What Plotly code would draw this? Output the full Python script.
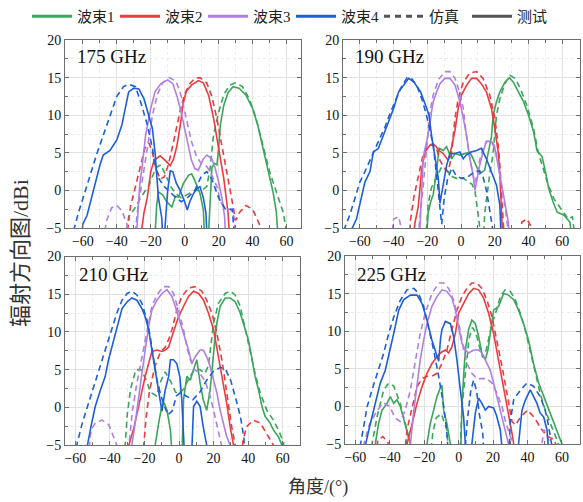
import plotly.graph_objects as go

# ---------------- data (angle in deg, gain in dBi); -8 = below the -5 dBi floor ----------------
freqs = ["175 GHz", "190 GHz", "210 GHz", "225 GHz"]
beam_names = ["波束1", "波束2", "波束3", "波束4"]
beam_colors = ["#3aa65c", "#ea3b3f", "#b07fe2", "#1d5fd6"]

# 175 GHz
meas_175_b1 = [(-18,-8),(-16.5,-2),(-15.5,-0.2),(-13,-0.6),(-10.6,-1.5),(-7.6,-2.2),(-5.5,-0.8),(-3.7,-0.9),(-0.8,0.9),(2.2,2.0),(4.1,2.2),(6,1.3),(9,-0.4),(11,-2.6),(12,-8),(13.5,-8),(15,-1.5),(16,3.0),(17.5,3.6),(19,3.4),(20,5.6),(21,8.7),(23,11.3),(25.5,13.0),(28.5,13.8),(32,13.6),(36,12.7),(40,10.9),(43,8.7),(46,5.6),(49,2.5),(52,-0.2),(54,-2.9),(55.5,-8)]
sim_175_b1 = [(-36,-8),(-33,-3.5),(-30,-2.6),(-26,-1.0),(-21,0.7),(-17,3.0),(-14,3.4),(-11,2.0),(-8,0.4),(-5,-0.5),(-2,-1.0),(2,-0.5),(6,0),(10,0),(13,0.5),(15,3.0),(17,7.4),(20,10.4),(23,12.7),(26.5,14.0),(30,14.3),(34,13.8),(38,12.2),(42,9.6),(46,6.0),(50,2.5),(54,-0.2),(58,-2.9),(62,-8)]
meas_175_b2 = [(-27,-8),(-24,-3),(-22,-0.9),(-20,2.5),(-18,4),(-14.5,4.6),(-11.5,4),(-8.5,3.3),(-6.5,4.2),(-4.7,5.8),(-2.7,8.5),(-1,11.5),(1,13.2),(4,14),(8,14.6),(11,14.3),(14,12.7),(17,9.6),(20,5.6),(23,1.6),(25.5,-2.9),(27,-8)]
sim_175_b2 = [(-35,-8),(-32,-2.2),(-29,0.5),(-26,3.5),(-23.5,5.6),(-21,6.3),(-19,5),(-17,3),(-14.5,1.5),(-12,1.8),(-9.5,3.5),(-7,6),(-4.5,8.8),(-2.5,10.8),(0,12.8),(3,14.2),(6,14.9),(9,15),(13,14.3),(16,12.5),(19,9.5),(22,6),(25,2),(28,-1.5),(30,-4),(32,-3),(36,-2),(40,-2.5),(44,-4.5),(46,-8)]
meas_175_b3 = [(-29,-8),(-27.5,-2),(-26.5,0.7),(-25,3.3),(-23,7.4),(-20,10.9),(-17.5,13.1),(-14,14.2),(-10,14.7),(-7,14.2),(-4.5,12.5),(-2.5,10.8),(1,6.9),(4,4),(6,2.9),(8,2.7),(11,4.2),(13,4.7),(16,4.2),(18,2.9),(20,1.1),(22,-1.1),(23.5,-3.5),(24.5,-8)]
sim_175_b3 = [(-49,-8),(-46,-4),(-43,-2.3),(-40,-2),(-37,-2.7),(-34,-4.5),(-32,-8),(-30,-8),(-28,-3),(-25,1.5),(-22,6),(-19,10),(-16,12.8),(-13,14.3),(-9,15),(-5,14.5),(-2,12.5),(1,9.5),(4,6.5),(7,4.5),(10,3.5),(13,3.2),(16,2),(19,0.5),(21,-1.5),(24,-2.5),(27,-2.5),(29,-3.5),(31,-8)]
meas_175_b4 = [(-61.5,-8),(-60,-4.5),(-57.5,-3.3),(-55.5,-1.5),(-53.7,-0.2),(-50,3.3),(-48,4.7),(-44,5.3),(-40,6.7),(-37,8.7),(-35,10.9),(-33,13.1),(-30,13.6),(-27,13.5),(-24,12.2),(-22,10.7),(-19,8.2),(-17.5,5.1),(-16.5,2.5),(-15.5,-0.9),(-13.5,-3.7),(-12.5,-8),(-11,-3),(-10,0),(-8.5,2.6),(-7,2.5),(-5,1),(-2.7,0),(0,-1.5),(1.5,-2.6),(3,-1.5),(5,-0.5),(7,0.2),(9,0.5),(11,-1),(12.5,-3),(13.5,-8)]
sim_175_b4 = [(-66,-8),(-65,-5),(-62.5,-2.9),(-58.6,-0.2),(-55,2.5),(-52,4.7),(-48,7.3),(-44,10),(-40,12.5),(-36,13.8),(-33,14.1),(-29,13.8),(-26,11.8),(-22,8.7),(-19,5.6),(-17.5,3.3),(-15,1.5),(-12,0.5),(-9,-0.2),(-5,-1),(-2,-1.5),(2,-0.9),(6,0),(10,2),(13,2.5),(16,1.5),(20,-1),(24,-2.5),(28,-2.5),(30,-8)]

# 190 GHz
meas_190_b1 = [(-21,-8),(-19.5,-3),(-18,-1.5),(-16.5,-0.5),(-14.5,2.7),(-13,5.6),(-10.6,5.3),(-8.6,5.8),(-5.6,4.2),(-3.6,4.9),(-0.7,4.7),(2.3,4.9),(5.2,5.1),(7.2,4.2),(9.2,3.1),(11,2.2),(14,2.7),(16,4.9),(18,7.1),(19,10),(21,11.8),(23,13.1),(26,14.4),(28.6,15.0),(31,14.4),(34,13.1),(37,11.8),(40,10),(43,7.8),(45,5.3),(48,4.5),(50,2.5),(52,0.2),(54.5,-1.5),(57,-2.9),(61,-3.3),(64.5,-4.2),(66.5,-8)]
sim_190_b1 = [(-21.5,-8),(-19.5,-1.8),(-17.5,0.4),(-14.5,1.8),(-11.6,3.1),(-8,2.5),(-5,1.8),(-2.7,1.6),(1.3,1.6),(4,1.2),(6.5,0.8),(8.2,0),(9.6,-2.2),(10.8,-4.4),(12,-8),(13,-8),(14,-3.1),(15.5,-0.4),(17,2.2),(19,4.9),(21,10),(23,12.2),(26,14.2),(29,15.3),(32,14.9),(35,13.6),(39,11.3),(43,8.2),(45.7,5.1),(48.7,2.9),(51.7,0.7),(55,-1.1),(58,-2),(60.6,-2.9),(63.5,-3.8),(66,-3.5),(68.5,-8)]
meas_190_b2 = [(-29,-8),(-27.4,-4.4),(-25.4,-2.2),(-23.4,2.7),(-21.4,5.1),(-18.5,6),(-15.5,6),(-13,5.3),(-10.6,4.9),(-7.6,4),(-5.6,5.8),(-3.6,8),(-1.7,10.9),(0.3,12.7),(3.3,14),(6.2,14.9),(9.2,14.9),(12,14.2),(15,13.1),(18,10.9),(20,8.2),(22,5.1),(23,2),(24,-1.5),(25,-8)]
sim_190_b2 = [(-31,-8),(-30,-4),(-28,-0.9),(-25,2.2),(-22.4,4.9),(-19.5,6),(-16.5,6.2),(-14.5,5.5),(-12.5,4),(-10,3),(-7.6,2.5),(-6,4.2),(-3.6,9.6),(-1.7,12.2),(1.3,14.4),(5.2,15.6),(9.2,15.8),(13,14.9),(17,12.7),(20,9.6),(22,6),(23,3.3),(24,-0.2),(25,-3.5),(26,-8),(35,-8),(36,-4.2),(39,-3.8),(41,-4.6),(42,-8)]
meas_190_b3 = [(-25,-8),(-23.5,0),(-22.4,4.5),(-20.4,6.5),(-18.5,8.7),(-17.5,10.5),(-16.5,11.8),(-14.5,13.1),(-12.5,14.2),(-9.6,14.9),(-6.6,14.9),(-3.6,14),(-0.7,11.8),(1.3,9.6),(3.3,7.3),(5.2,4.2),(7.2,2),(8.2,0),(9,1),(11,3.3),(13,5.1),(15,6.5),(18,6.5),(20,5.6),(22,3.3),(24,0.7),(26,-2),(28,-4.2),(29,-8)]
sim_190_b3 = [(-42,-8),(-40,-3.8),(-37,-3.5),(-35,-5.5),(-26,-8),(-25,-5),(-22.4,0.7),(-20.4,6),(-18.5,10.4),(-16.5,12.7),(-13.5,14.7),(-9.6,15.8),(-6.6,15.8),(-3.6,14.9),(-1,13.1),(1.3,10.9),(3,7.5),(5,4.5),(7,2),(8,1),(9.5,2),(11,4),(13,5.5),(15,6.5),(18,6.6),(20,5.8),(22,3.5),(24,1),(26,-2),(28,-5.5)]
meas_190_b4 = [(-65,-8),(-64.5,-5),(-62,-3.8),(-59,-0.7),(-57,1.1),(-54,2.5),(-52,5.1),(-49,5.6),(-46,7.3),(-43,9.1),(-40,10.9),(-37,13.1),(-34,14),(-31,14.9),(-28,14.4),(-24,13.1),(-21,11.3),(-19,10),(-17.5,7.3),(-15.5,4.2),(-13.5,1.6),(-12.5,-1.7),(-10.5,0.7),(-8.6,3.3),(-6.6,4.9),(-3.6,4.9),(-0.7,5.1),(1.3,4.2),(3,4.7),(6,5.1),(9.2,5.3),(12,5.6),(15,4.2),(18,2.5),(21,0.7),(23,-2),(24,-8)]
sim_190_b4 = [(-70,-8),(-69,-5),(-66,-3.3),(-63,-1.1),(-60,1.1),(-57,2.5),(-54,4),(-51,5.5),(-48,6.8),(-45,8.5),(-42,10.3),(-39,12),(-36,13.5),(-32,15),(-29,14.8),(-26,13.8),(-23,12),(-20.5,10),(-18.5,8),(-16.5,6),(-14.5,2),(-12.5,-2),(-11.5,-4.5),(-10,-1),(-8,1.5),(-5.5,3),(-3,2),(0,1.6),(4,1.8),(8,2.5),(11,2.6),(13,1.8),(15,0),(17,-2.7),(19,-5.5)]

# 210 GHz
meas_210_b1 = [(-14.5,-8),(-13.8,-5),(-11.8,-2.1),(-9.9,0.3),(-8.5,0.5),(-7,-0.4),(-5,-3),(-3.5,-8),(1.5,-8),(2.6,1),(4.5,4.1),(6.5,3.6),(8.4,5),(10.3,6.3),(12.2,3.2),(14,1),(16,-0.4),(18,2.3),(20,7.2),(21.9,11.2),(23.8,13.4),(26.7,14.5),(29.6,14.5),(32.5,14),(35.4,12.5),(38.2,10.3),(40.2,8.9),(42,6.7),(44,4.1),(46,2.3),(48,0.1),(49.8,-1.2),(52.7,-2.1),(54.6,-3),(57.5,-3.9),(59.5,-5),(60.5,-8)]
sim_210_b1 = [(-32,-8),(-30,-1),(-28,2.5),(-25,5),(-22,5),(-19,3.6),(-16.5,2),(-13,1.5),(-10.5,3.5),(-8,4.7),(-5,3.5),(-2,2),(0,1.8),(3,2.5),(6,4),(9,5),(12,5),(15,4.5),(17,5.5),(18.5,8),(20,11.2),(22.8,13.8),(26.7,15.1),(29.6,15.4),(32.5,14.9),(35.4,13.4),(38.2,10.7),(41,7.6),(44,4.5),(47,1.9),(50.8,-0.4),(54.6,-1.7),(57.5,-3),(60.4,-4.6),(61.5,-8)]
meas_210_b2 = [(-30,-8),(-29,-5),(-26,-2.6),(-23.4,0.1),(-21.5,2.3),(-19.6,4.1),(-17.6,5.8),(-15.7,7.4),(-12.8,7.6),(-9.9,7.4),(-8,7.6),(-6,8),(-4.1,9.4),(-2.2,10.7),(-0.3,12),(2.6,13.4),(5.5,14.7),(8.4,15.4),(11.3,15.1),(14.2,14.2),(17,12.5),(20,10.3),(22.8,6.7),(25.7,3.2),(27.6,0.5),(29.6,-2.6),(31.5,-5),(32.5,-8)]
sim_210_b2 = [(-21.5,-8),(-20.5,-5),(-19,-1.2),(-17,2.3),(-14,5.4),(-11,7.2),(-8,8),(-6,9),(-4.1,10.3),(-1.3,12.9),(1.6,14.7),(5.5,15.8),(9.3,16),(13.2,15.4),(16,14.2),(19,12.5),(21.9,9.8),(24.8,6.3),(26.7,3.2),(28.6,0.1),(30.5,-2.6),(32.5,-5),(33.5,-8),(36,-8),(37,-4.5),(39,-2.6),(43,-1.7),(47,-2.1),(50.8,-3.5),(54.6,-5),(55.5,-8)]
meas_210_b3 = [(-28,-8),(-27.3,-5),(-25.4,-2.1),(-23.4,1.4),(-21.5,4.5),(-19.6,7.6),(-17.6,10.7),(-15.7,12.9),(-12.8,14.2),(-9.9,15.1),(-7,15.6),(-4.1,14.7),(-2.2,13.4),(-0.3,12),(2.6,9.8),(5.5,7.6),(7.4,5.8),(9.3,6.7),(12.2,7.6),(14,7.6),(16,6.7),(18,5.4),(20,3.6),(21.9,1.9),(23.8,-0.4),(25.7,-2.1),(27.6,-3.9),(29.6,-5),(30.5,-8)]
sim_210_b3 = [(-53,-8),(-51,-3),(-48.4,-2.1),(-44.6,-1.7),(-40.7,-2.3),(-38,-3.9),(-36,-5),(-34,-8),(-30,-8),(-29,-5),(-27,-0.5),(-24.4,3.2),(-21.5,6.7),(-18.6,10.3),(-15.7,13.4),(-12.8,14.9),(-9,16),(-6,16),(-3.2,15.1),(-0.3,12.9),(2.6,10.3),(4.5,8),(6.5,6.3),(9,5),(12,4.5),(15,3.5),(18,1.5),(20,-0.4),(22.8,-3),(25,-5.5)]
meas_210_b4 = [(-54,-8),(-53,-5),(-51,-2.6),(-48.5,0.1),(-45.5,2.3),(-42.7,4.1),(-40.8,6.3),(-38.8,8),(-37,9.8),(-35,11.6),(-33,13.1),(-30,14),(-27.3,14.5),(-24.4,14.2),(-21.5,13.1),(-19.6,12),(-17.6,10.3),(-15.7,7.6),(-13.8,5),(-11.8,2.3),(-9.9,-0.5),(-8,2.3),(-6,4.1),(-5,6.3),(-3.2,6.3),(-1.3,5.8),(0.5,4),(1.6,1),(2.6,-5),(3.5,-8),(7,-8),(8.4,0.1),(10.3,0.8),(12.2,0.1),(14,-2.6),(16,-5),(17,-8)]
sim_210_b4 = [(-60,-8),(-59,-4.8),(-56,-2.1),(-53,0.1),(-50,2.3),(-47.5,4.1),(-44.6,6.3),(-41.7,8.5),(-38.8,10.3),(-36,12.5),(-33,14.2),(-30,15.1),(-27.3,15.4),(-24.4,14.9),(-21.5,13.8),(-18.6,11.6),(-16.7,9.4),(-14.7,6.3),(-12.8,3.6),(-10.9,1.9),(-9,0.5),(-6.5,-1),(-4,-0.5),(-1.5,1.5),(1,2),(4,1.5),(8,1),(12,2),(16,3.6),(20,4.8),(24,5.3),(27,5),(30,3.5),(33,1),(35.5,-1.2),(37.5,-4),(38.5,-8)]

# 225 GHz
meas_225_b1 = [(-49,-8),(-48.4,-5),(-46.5,-2.3),(-44.5,-0.5),(-41.6,0.4),(-39.7,1.3),(-37.7,0.4),(-35.8,0.9),(-33.9,0),(-32,-1.5),(-30,-3.2),(-28,-5),(-27,-8),(-19,-8),(-18.4,-5),(-16.5,-2.3),(-14.5,-0.5),(-12.6,1.3),(-10.6,2.5),(-9.7,2.8),(-8.7,-0.5),(-6.8,-2.3),(-4.8,-5),(-4,-8),(1,-8),(1.9,0),(2.9,4),(3.9,7.5),(5.8,10.2),(7.7,11.5),(9.7,11),(11.6,9.3),(13.5,7.1),(15.5,6.2),(17,7.5),(18.4,9.7),(20.3,12.8),(23.2,13.3),(26.1,15),(29,14.8),(32,14.2),(34.8,12.8),(37.7,11),(40.6,8.8),(43.5,5.7),(46.5,3.1),(49.4,1.3),(52.3,-0.5),(55.2,-2.3),(58,-4),(60,-5),(61,-8)]
sim_225_b1 = [(-51,-8),(-50.3,-5),(-47.4,-1.4),(-43.5,2.2),(-40.6,3.1),(-37.7,2.7),(-33.9,0.4),(-30,-3.1),(-28,-5),(-27,-8),(-17,-8),(-15,-3.5),(-13,-1.5),(-10,-1),(-7,-3),(-5,-8),(0.5,-8),(2,0),(4,5),(6,9),(8,10.5),(10,9.8),(12,8),(14,6.5),(16,7.5),(19.4,11),(22.3,13),(24.2,14.6),(27,15.5),(30,15.3),(32.9,14.2),(35.8,12.4),(38.7,10.2),(41.6,7.5),(44.5,4.4),(47.4,1.7),(50.3,-0.5),(53.2,-2.3),(56,-4),(58,-5),(59,-8)]
meas_225_b2 = [(-31,-8),(-30,-5),(-27,-2.3),(-24.2,0.4),(-21.3,2.6),(-18.4,4.4),(-15.5,5.7),(-12.6,6.6),(-10,7.2),(-7.7,7.5),(-5.8,7.1),(-3.9,7.9),(-1.9,9.7),(0,12.4),(2.9,13.7),(5.8,15),(8.7,15.7),(11.6,15.5),(14.5,14.4),(17.4,12.4),(20.3,9.7),(23.2,6.2),(26.1,2.6),(29,-0.9),(31,-3.6),(32,-5),(33,-8)]
sim_225_b2 = [(-48,-8),(-47,-4.5),(-44,-4),(-41,-4.8),(-40,-8),(-32,-8),(-30,-3.1),(-27,0),(-24.2,2.6),(-21.3,3.7),(-18.4,4),(-15.5,4),(-12.6,4.4),(-9.7,5.7),(-6.8,7.5),(-3.9,10.2),(-1,12.8),(1.9,14.6),(4.8,15.7),(7.7,16.4),(10.6,16.4),(13.5,15.7),(16.5,14.1),(19.4,11.9),(22.3,8.8),(25.2,5.3),(27,3.1),(29,0.5),(31,-2),(33,-2.5),(36,-1.4),(40,-0.5),(44,-1.5),(48,-3),(52,-4),(56,-4.5),(58,-8)]
meas_225_b3 = [(-29,-8),(-28,-5),(-26,-0.5),(-24.2,3.1),(-22.3,6.2),(-20.3,8.8),(-18.4,11),(-15.5,13.3),(-12.6,14.6),(-9.7,15.5),(-6.8,15.3),(-3.9,14.4),(-1.9,12.8),(0,10.6),(1.9,8.4),(3.9,7.5),(5.8,7.1),(8.7,7.5),(11.6,7.5),(13.5,7.1),(15.5,6.2),(18.4,4.8),(20.3,3.1),(22.3,1.3),(24.2,-0.5),(26.1,-2.3),(28,-4),(29,-5),(30,-8)]
sim_225_b3 = [(-56,-8),(-55,-5),(-52,-2.5),(-48,-0.8),(-44,0.5),(-40,0),(-37,-1.5),(-34,-2),(-31,-0.5),(-28,2.2),(-25,6.2),(-22.3,9.7),(-19.4,12.4),(-15.5,15),(-11.6,16.4),(-8.7,16.4),(-5.8,15.7),(-2.9,14.1),(-1,12.4),(1,9.7),(2.9,7.5),(4.8,5.7),(7.7,4.4),(10.6,3.7),(13.5,3.7),(16.5,3.7),(19.4,3.1),(22.3,1.7),(25.2,0),(27,-1.8),(30,-4),(32,-5),(33,-8),(47,-8),(49.4,-3.1),(51,-3.5),(53,-5),(54,-8)]
meas_225_b4 = [(-55,-8),(-54,-5),(-51.3,-2.3),(-48.4,0.4),(-45.5,3.1),(-42.6,4.8),(-39.7,7.5),(-37.7,9.7),(-34.8,12.8),(-31.9,14.2),(-28,14.8),(-24.2,14.8),(-21.3,13.7),(-18.4,11.5),(-15.5,8.8),(-12.6,6.6),(-11.6,6.0),(-10.5,9),(-9.7,10.2),(-7.7,11.3),(-4.8,11),(-2.9,9.3),(-1,6.2),(1,2.2),(2.9,-1.4),(3.9,-5),(4.5,-8),(7,-8),(7.7,-5),(9.7,-0.9),(11.6,1.1),(13.5,0.4),(15.5,-0.5),(17.4,0),(20.3,-0.2),(22,-1.2),(24.2,-3.1),(25,-5),(26,-8),(34,-8),(34.8,-5),(36.8,-0.5),(38.7,0.8),(41.6,2.2),(43.5,1.3),(45.5,0.4),(47.4,-0.9),(49.4,-1.4),(51.3,-3.1),(52,-5),(53,-8)]
sim_225_b4 = [(-58,-8),(-57,-5),(-55,-2.5),(-53.2,-0.1),(-50.3,2.2),(-47.4,4.4),(-43.5,7.1),(-40.6,9.7),(-37.7,11.9),(-33.9,14.1),(-30,15.5),(-26,15.7),(-23.2,15),(-20.3,13.3),(-17.4,10.6),(-14.5,7.5),(-11.6,4),(-9,0.5),(-7,-3),(-5.5,-8),(3,-8),(5,-2),(7,2),(8.7,3.5),(10.5,2),(12,-1),(14,-3.5),(15,-8),(29,-8),(30,-2),(32,0.9),(36,2.2),(39.7,3.1),(43.5,2.7),(47.4,1.3),(50.3,-0.5),(52,-2.3),(54,-5),(55,-8)]

x_tick_vals = [-60, -40, -20, 0, 20, 40, 60]
y_tick_vals = [-5, 0, 5, 10, 15, 20]

panels = [
    ([sim_175_b1, sim_175_b2, sim_175_b3, sim_175_b4], [meas_175_b1, meas_175_b2, meas_175_b3, meas_175_b4]),
    ([sim_190_b1, sim_190_b2, sim_190_b3, sim_190_b4], [meas_190_b1, meas_190_b2, meas_190_b3, meas_190_b4]),
    ([sim_210_b1, sim_210_b2, sim_210_b3, sim_210_b4], [meas_210_b1, meas_210_b2, meas_210_b3, meas_210_b4]),
    ([sim_225_b1, sim_225_b2, sim_225_b3, sim_225_b4], [meas_225_b1, meas_225_b2, meas_225_b3, meas_225_b4]),
]

# ---------------- layout geometry ----------------
W, H = 583, 502
boxes = [  # left, right, top, bottom in px
    (65, 301, 40, 228),
    (343, 580, 40, 228),
    (65, 300, 256.5, 445),
    (345, 580, 256, 444),
]
x_ranges = [(-70.5, 68.5), (-70, 70.5), (-66, 70), (-66, 70.5)]
label_pos = [(0.042, 0.91), (0.042, 0.91), (0.05, 0.905), (0.043, 0.90)]

SERIF = "Liberation Serif, Times New Roman, Noto Sans CJK SC, serif"

fig = go.Figure()
layout = dict(
    width=W, height=H,
    margin=dict(l=0, r=0, t=0, b=0, autoexpand=False),
    paper_bgcolor="white", plot_bgcolor="white",
    font=dict(family=SERIF, size=14, color="#111"),
    showlegend=True,
)

for i, (sims, meas) in enumerate(panels):
    ax = "" if i == 0 else str(i + 1)
    xref, yref = "x" + ax, "y" + ax
    for b in range(4):
        for data, dash in ((sims[b], "6px,4px"), (meas[b], "solid")):
            fig.add_trace(go.Scatter(
                x=[p[0] for p in data], y=[p[1] for p in data],
                mode="lines", xaxis=xref, yaxis=yref,
                line=dict(color=beam_colors[b], width=1.6, dash=dash),
                showlegend=False, hoverinfo="skip"))
    l, r, t, btm = boxes[i]
    common = dict(showline=True, linecolor="#6e6e6e", linewidth=1, mirror="allticks",
                  ticks="inside", ticklen=4, tickcolor="#6e6e6e", showgrid=True,
                  gridcolor="#e2e2e2", gridwidth=1, zeroline=False,
                  tickfont=dict(family=SERIF, size=14, color="#111"))
    layout["xaxis" + ax] = dict(
        domain=[l / W, r / W], range=list(x_ranges[i]), anchor=yref,
        tickmode="array", tickvals=x_tick_vals,
        ticktext=[("\u2212" + str(-v)) if v < 0 else str(v) for v in x_tick_vals],
        minor=dict(dtick=10, tick0=0, ticks="inside", ticklen=3, tickcolor="#6e6e6e",
                   showgrid=True, gridcolor="#ececec", griddash="dot"),
        **common)
    layout["yaxis" + ax] = dict(
        domain=[1 - btm / H, 1 - t / H], range=[-5, 20], anchor=xref,
        tickmode="array", tickvals=y_tick_vals,
        ticktext=[("\u2212" + str(-v)) if v < 0 else str(v) for v in y_tick_vals],
        minor=dict(dtick=2.5, tick0=0, ticks="inside", ticklen=3, tickcolor="#6e6e6e",
                   showgrid=True, gridcolor="#ececec", griddash="dot"),
        **common)

# legend-only entries
for b in range(4):
    fig.add_trace(go.Scatter(x=[None], y=[None], mode="lines", name=beam_names[b],
                             line=dict(color=beam_colors[b], width=3)))
fig.add_trace(go.Scatter(x=[None], y=[None], mode="lines", name="仿真",
                         line=dict(color="#555555", width=3, dash="6px,5px")))
fig.add_trace(go.Scatter(x=[None], y=[None], mode="lines", name="测试",
                         line=dict(color="#555555", width=3)))

annotations = []
for i, name in enumerate(freqs):
    ax = "" if i == 0 else str(i + 1)
    annotations.append(dict(text=name, xref="x" + ax + " domain", yref="y" + ax + " domain",
                            x=label_pos[i][0], y=label_pos[i][1], xanchor="left", yanchor="middle",
                            showarrow=False, font=dict(family=SERIF, size=19, color="#111")))
annotations.append(dict(text="辐射方向图/dBi", xref="paper", yref="paper", x=20 / W, y=1 - 253 / H,
                        textangle=-90, showarrow=False, xanchor="center", yanchor="middle",
                        font=dict(family=SERIF, size=22, color="#333")))
annotations.append(dict(text="角度/(°)", xref="paper", yref="paper", x=318 / W, y=1 - 487 / H,
                        showarrow=False, xanchor="center", yanchor="middle",
                        font=dict(family=SERIF, size=18, color="#333")))
layout["annotations"] = annotations
layout["legend"] = dict(orientation="h", x=27 / W, y=1.0, xanchor="left", yanchor="top",
                        font=dict(family=SERIF, size=15, color="#222"), itemwidth=40,
                        entrywidth=33, bgcolor="rgba(0,0,0,0)", tracegroupgap=0)

fig.update_layout(**layout)
# remove the browser's default 8px body margin so the figure sits at the page origin
fig.write_html("out.html", config={"displayModeBar": False},
               post_script="document.body.style.margin='0';")
